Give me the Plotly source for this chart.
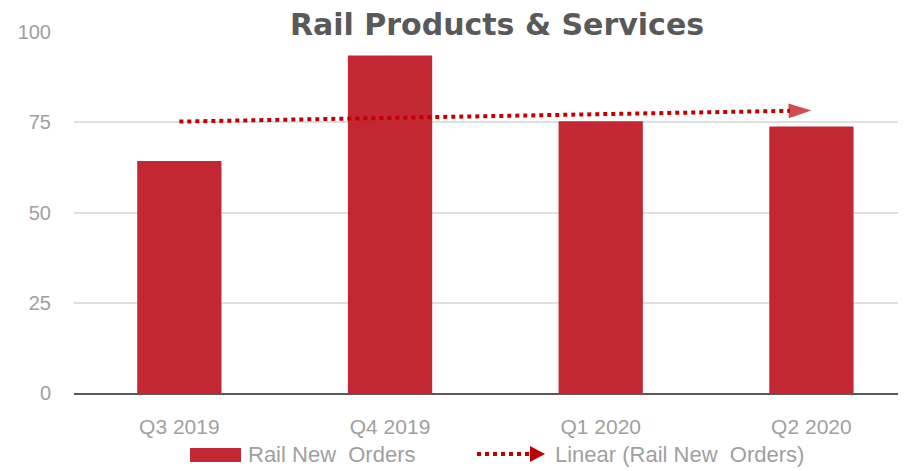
import numpy as np
import plotly.graph_objects as go

categories = ["Q3 2019", "Q4 2019", "Q1 2020", "Q2 2020"]
new_orders = [64.3, 93.5, 75.3, 73.8]
y_ticks = [0, 25, 50, 75, 100]
title_text = "Rail Products & Services"
bar_name = "Rail New\u00a0 Orders"
trend_name = "Linear (Rail New\u00a0 Orders)"

idx = np.arange(len(categories))
slope, intercept = np.polyfit(idx, new_orders, 1)
trend = [intercept, intercept + slope * idx[-1]]
trend_x = [categories[0], categories[-1]]

BAR = "#C22732"
TREND = "#C00000"
TICK = "#A0A0A0"
FONT = "Liberation Sans"

# page body has an 8px margin: figure sized so it fills the rest of the window
OFF = 8
W, H = 906 - OFF, 471 - OFF
ML, MR, MT, MB = 74 - OFF, 0, 32 - OFF, 78
PW, PH = W - ML - MR, H - MT - MB


def px_x(x):  # screen pixel -> paper
    return (x - OFF - ML) / PW


def px_y(y):
    return (H - MB - (y - OFF)) / PH


fig = go.Figure()
fig.add_trace(go.Bar(
    x=categories, y=new_orders, name=bar_name, showlegend=False,
    marker=dict(color=BAR, line=dict(width=0)), width=0.4,
))
fig.add_trace(go.Scatter(
    x=trend_x, y=trend, name=trend_name, mode="lines+markers", showlegend=False,
    line=dict(color=TREND, width=4, dash="4px,4px"),
    marker=dict(symbol="arrow", angleref="previous", size=[0, 24], color=TREND,
                line=dict(width=0)),
))

# custom legend (decoration)
shapes = [
    dict(type="rect", xref="paper", yref="paper",
         x0=px_x(190), x1=px_x(241), y0=px_y(462), y1=px_y(448),
         fillcolor=BAR, line=dict(width=0)),
    dict(type="line", xref="paper", yref="paper",
         x0=px_x(477), x1=px_x(530), y0=px_y(454), y1=px_y(454),
         line=dict(color=TREND, width=4, dash="4px,4px")),
    dict(type="path", xref="paper", yref="paper",
         path=f"M{px_x(530)},{px_y(446)} L{px_x(545)},{px_y(454)} L{px_x(530)},{px_y(462)} Z",
         fillcolor=TREND, line=dict(width=0)),
]
annotations = [
    dict(text=bar_name, xref="paper", yref="paper", x=px_x(246), y=px_y(454),
         xanchor="left", yanchor="middle", showarrow=False,
         font=dict(family=FONT, size=22, color=TICK)),
    dict(text=trend_name, xref="paper", yref="paper", x=px_x(553), y=px_y(454),
         xanchor="left", yanchor="middle", showarrow=False,
         font=dict(family=FONT, size=22, color=TICK)),
]

fig.update_layout(
    width=W, height=H,
    margin=dict(l=ML, r=MR, t=MT, b=MB, autoexpand=False),
    paper_bgcolor="white", plot_bgcolor="white",
    title=dict(text=title_text, x=(497 - OFF) / W, xref="container", xanchor="center",
               y=1 - 16 / H, yref="container", yanchor="middle",
               font=dict(family="DejaVu Sans", size=30, color="#595959", weight="bold")),
    font=dict(family=FONT, color=TICK),
    showlegend=False,
    shapes=shapes,
    annotations=annotations,
    xaxis=dict(range=[-0.5, 3.449], showgrid=False, showline=True, linecolor="#595959",
               linewidth=1.5, ticks="", tickfont=dict(size=21, color=TICK),
               ticklabelstandoff=14, zeroline=False, automargin=False),
    yaxis=dict(range=[0, 100], tickvals=y_ticks, showgrid=True, gridcolor="#E0E0E0",
               gridwidth=1.5, zeroline=False, showline=False, ticks="",
               tickfont=dict(size=20, color=TICK), ticklabelstandoff=22, automargin=False),
)

fig.write_html("out.html")
